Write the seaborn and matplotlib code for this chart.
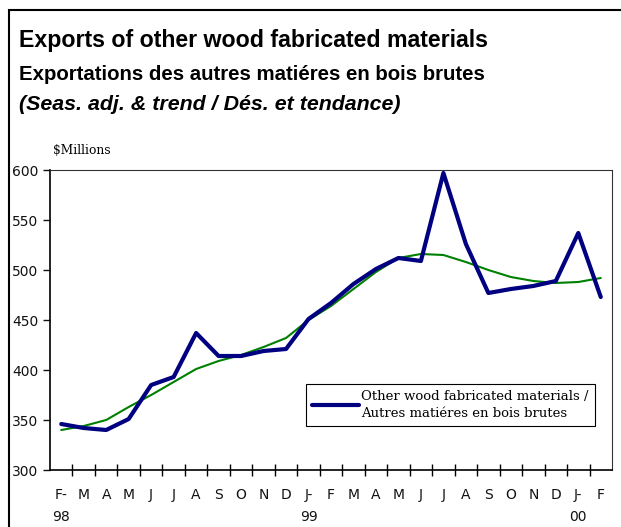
import matplotlib
matplotlib.use("Agg")
import matplotlib.pyplot as plt
import matplotlib.patches as patches
import seaborn as sns
import pandas as pd

# monthly values, Feb 1998 - Feb 2000 ($ millions)
months = ["F-\n98", "M", "A", "M", "J", "J", "A", "S", "O", "N", "D", "J-\n99",
          "F", "M", "A", "M", "J", "J", "A", "S", "O", "N", "D", "J-\n00", "F"]
exports = [346, 342, 340, 351, 385, 393, 437, 414, 414, 419, 421, 451,
           467, 486, 501, 512, 509, 597, 526, 477, 481, 484, 489, 537, 473]
trend = [340, 344, 350, 363, 375, 388, 401, 409, 415, 423, 432, 450,
         464, 481, 498, 512, 516, 515, 508, 500, 493, 489, 487, 488, 492]

legend_label = "Other wood fabricated materials /\nAutres matiéres en bois brutes"

df = pd.DataFrame({"idx": range(len(months)), "exports": exports, "trend": trend})

sns.set_style("ticks")
plt.rcParams["font.family"] = ["DejaVu Sans"]
plt.rcParams["text.color"] = "black"

fig = plt.figure(figsize=(6.21, 5.27), dpi=100)
ax = fig.add_axes([50 / 621, 1 - 470 / 527, (612 - 50) / 621, 300 / 527])

sns.lineplot(data=df, x="idx", y="trend", ax=ax, color="#008000", linewidth=1.5,
             legend=False)
sns.lineplot(data=df, x="idx", y="exports", ax=ax, color="#000080", linewidth=3,
             label=legend_label)

ax.set_xlim(-0.5, len(months) - 0.5)
ax.set_ylim(300, 600)
ax.set_yticks(range(300, 601, 50))
ax.set_xticks(range(len(months)))
ax.set_xticklabels(months, linespacing=1.75, va="top")
ax.set_xticks([i + 0.5 for i in range(len(months) - 1)], minor=True)
ax.tick_params(axis="x", which="major", length=0, pad=13, labelsize=10, colors="#111111")
ax.tick_params(axis="x", which="minor", direction="inout", length=8, width=1, color="black")
ax.tick_params(axis="y", direction="out", length=5, width=1, labelsize=10,
               colors="#111111")
ax.set_xlabel("")
ax.set_ylabel("")
for side in ["left", "bottom"]:
    ax.spines[side].set_linewidth(1.2)
    ax.spines[side].set_color("black")
for side in ["top", "right"]:
    ax.spines[side].set_visible(True)
    ax.spines[side].set_linewidth(0.8)
    ax.spines[side].set_color("#333333")

leg = ax.legend(loc="upper left", bbox_to_anchor=(306 / 621, 1 - 384 / 527),
                bbox_transform=fig.transFigure, frameon=True, fancybox=False,
                framealpha=1, edgecolor="black", handlelength=3.6,
                handletextpad=0.15, borderpad=0.45, borderaxespad=0,
                prop={"family": "DejaVu Serif", "size": 9.5})
leg.get_frame().set_linewidth(0.8)
for t in leg.get_texts():
    t.set_linespacing(1.4)

fig.text(19 / 621, 1 - 40 / 527, "Exports of other wood fabricated materials",
         fontsize=16.7, fontweight="bold", family="Liberation Sans", va="center")
fig.text(19 / 621, 1 - 75 / 527, "Exportations des autres matiéres en bois brutes",
         fontsize=14.7, fontweight="bold", family="Liberation Sans", va="center")
fig.text(19 / 621, 1 - 104 / 527, "(Seas. adj. & trend / Dés. et tendance)",
         fontsize=15.4, fontweight="bold", fontstyle="italic", family="Liberation Sans",
         va="center")
fig.text(53 / 621, 1 - 150 / 527, "$Millions", fontsize=8.8, family="DejaVu Serif",
         va="center")

fig.add_artist(patches.Rectangle((9 / 621, -0.1), 1.0, 1.1 - 10 / 527,
                                 transform=fig.transFigure, fill=False,
                                 linewidth=1.5, edgecolor="black"))

fig.savefig("out.png", dpi=100)
